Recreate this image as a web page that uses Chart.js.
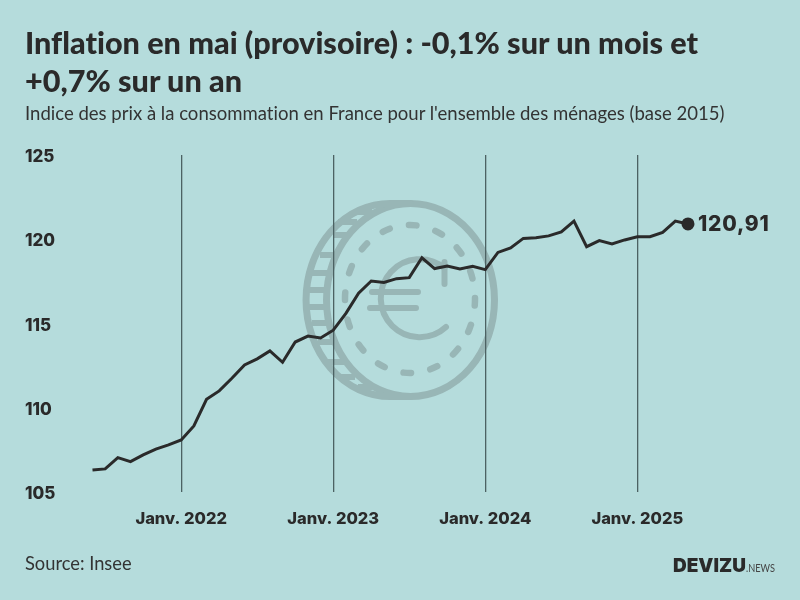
<!DOCTYPE html>
<html lang="fr">
<head>
<meta charset="utf-8">
<title>Inflation en mai</title>
<script src="https://cdn.jsdelivr.net/npm/chart.js@4"></script>
<style>
  html, body { margin: 0; padding: 0; }
  body { width: 800px; height: 600px; background: #b5dcdc; overflow: hidden; position: relative; font-family: Lato, sans-serif; color: #2a2a2a; font-variant-ligatures: none; }
  #coin, #graph { position: absolute; left: 0; top: 0; }
  .txt { position: absolute; white-space: nowrap; }
  #titre { left: 25px; top: 24px; font-size: 30.6px; font-weight: 900; line-height: 38px; }
  #sous { left: 25px; top: 102px; font-size: 18.55px; color: #333; }
  #source { left: 25px; top: 552px; font-size: 18.3px; color: #333; }
  #logo { left: 673px; top: 554px; font-family: Inter, sans-serif; font-size: 19px; font-weight: 900; }
  #logo span { display: inline-block; font-family: Lato, sans-serif; font-size: 11.5px; font-weight: 400; color: #444; transform: scaleX(0.8); transform-origin: left; }
</style>
</head>
<body>
<svg id="coin" width="800" height="600" fill="none" stroke="#98b6b6" stroke-width="7" stroke-linecap="round">
  <ellipse cx="410.5" cy="300" rx="84" ry="96.5"/>
  <path d="M410 203.5 H390 A84 96.5 0 0 0 390 396.5 H410"/>
  <g stroke-linecap="butt" stroke-width="6">
    <path d="M358 212H372 M338 222H357 M333 235H350 M320 255H335 M312 273H330 M308 290H328 M308 307H328 M312 323H330 M318 342H335 M328 362H345 M338 377H355 M358 387H372"/>
  </g>
  <ellipse cx="410" cy="299" rx="65" ry="74" stroke-width="6.5" pathLength="16" stroke-dasharray="0.28 0.72" stroke-dashoffset="0.04"/>
  <g stroke-width="6">
    <path d="M446 327 A 39 39 0 1 1 444.500 268"/>
    <path d="M444.500 262V284"/>
    <path d="M372 292H418 M370 308H416"/>
  </g>
</svg>
<canvas id="graph" width="800" height="600"></canvas>
<div class="txt" id="titre">Inflation en mai (provisoire) : -0,1% sur un mois et<br>+0,7% sur un an</div>
<div class="txt" id="sous">Indice des prix à la consommation en France pour l'ensemble des ménages (base 2015)</div>
<div class="txt" id="source">Source: Insee</div>
<div class="txt" id="logo">DEVIZU<span>.NEWS</span></div>
<script>
const mois = [
  "2021-06","2021-07","2021-08","2021-09","2021-10","2021-11","2021-12",
  "2022-01","2022-02","2022-03","2022-04","2022-05","2022-06","2022-07","2022-08","2022-09","2022-10","2022-11","2022-12",
  "2023-01","2023-02","2023-03","2023-04","2023-05","2023-06","2023-07","2023-08","2023-09","2023-10","2023-11","2023-12",
  "2024-01","2024-02","2024-03","2024-04","2024-05","2024-06","2024-07","2024-08","2024-09","2024-10","2024-11","2024-12",
  "2025-01","2025-02","2025-03","2025-04","2025-05"
];
const indice = [
  106.3,106.37,107.04,106.8,107.2,107.55,107.8,
  108.09,108.92,110.5,111.0,111.75,112.54,112.9,113.37,112.7,113.9,114.25,114.14,
  114.6,115.6,116.8,117.52,117.44,117.66,117.72,118.9,118.26,118.41,118.23,118.39,
  118.2,119.22,119.48,120.05,120.09,120.2,120.43,121.08,119.56,119.92,119.72,119.96,
  120.15,120.15,120.41,121.08,120.91
];
const ticksY = [105, 110, 115, 120, 125];
const etiquettesJanvier = { "2022-01": "Janv. 2022", "2023-01": "Janv. 2023", "2024-01": "Janv. 2024", "2025-01": "Janv. 2025" };
const derniereValeur = "120,91";

const encre = "#2a2a2a";

// valeur finale a droite du dernier point
const etiquetteFin = {
  id: "etiquetteFin",
  afterDatasetsDraw(chart) {
    const pts = chart.getDatasetMeta(0).data;
    const p = pts[pts.length - 1];
    const ctx = chart.ctx;
    ctx.save();
    ctx.fillStyle = encre;
    ctx.font = "800 21px Inter";
    ctx.letterSpacing = "0.8px";
    ctx.textAlign = "left";
    ctx.textBaseline = "middle";
    ctx.fillText(derniereValeur, p.x + 10, p.y + 1);
    ctx.restore();
  }
};

new Chart(document.getElementById("graph").getContext("2d"), {
  type: "line",
  data: {
    labels: mois,
    datasets: [{
      data: indice,
      borderColor: encre,
      backgroundColor: encre,
      borderWidth: 3,
      tension: 0,
      fill: false,
      clip: false,
      pointRadius: ctx => ctx.dataIndex === indice.length - 1 ? 5 : 0,
      pointHoverRadius: 0
    }]
  },
  options: {
    responsive: false,
    animation: false,
    devicePixelRatio: 1,
    layout: { padding: { left: 25, right: 112, top: 155, bottom: 70 } },
    plugins: { legend: { display: false }, tooltip: { enabled: false } },
    scales: {
      x: {
        type: "category",
        offset: false,
        border: { display: false },
        afterFit: s => { s.height = 38; },
        grid: {
          drawTicks: false,
          lineWidth: 1.3,
          color: ctx => etiquettesJanvier[mois[ctx.index]] ? "#4c6263" : "rgba(0,0,0,0)"
        },
        ticks: {
          autoSkip: false,
          maxRotation: 0,
          padding: 17,
          color: encre,
          font: { family: "Inter", size: 16.5, weight: "800" },
          callback: (v, i) => etiquettesJanvier[mois[i]] || ""
        }
      },
      y: {
        min: 105,
        max: 125,
        border: { display: false },
        grid: { display: false },
        afterFit: s => { s.width = 67.5; },
        afterBuildTicks: s => { s.ticks = ticksY.map(v => ({ value: v })); },
        ticks: {
          crossAlign: "far",
          padding: 0,
          color: encre,
          // ligne vide + petit interligne : descend le texte de 2px
          font: { family: "Inter", size: 17, weight: "800", lineHeight: "4px" },
          callback: v => ["", String(v)]
        }
      }
    }
  },
  plugins: [etiquetteFin]
});
</script>
</body>
</html>
